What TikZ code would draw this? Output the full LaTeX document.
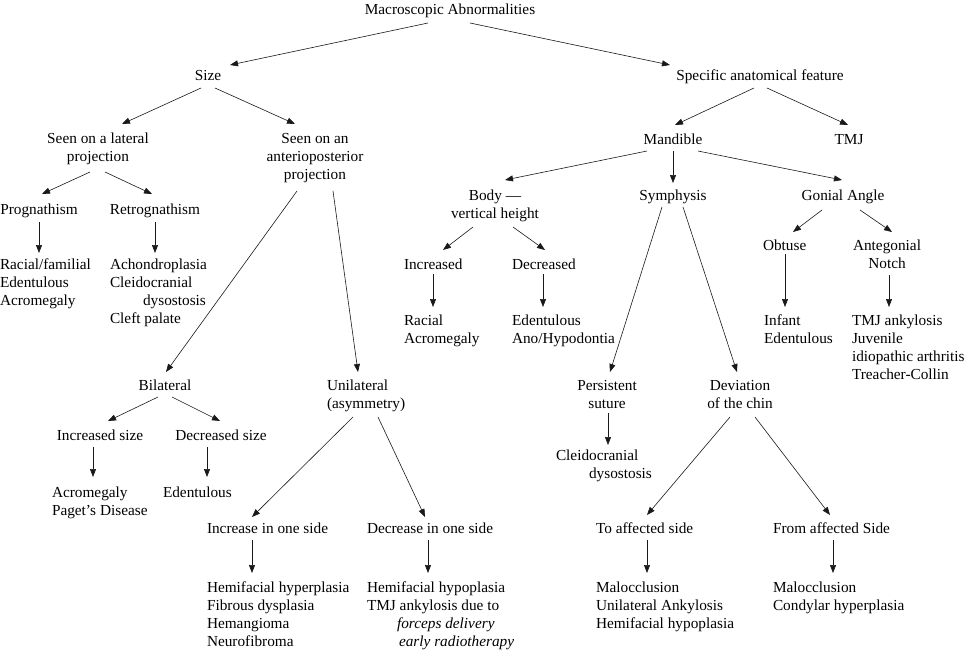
\documentclass[tikz,border=0pt]{standalone}
\usepackage{fontspec}
\setmainfont{Liberation Serif}
\usetikzlibrary{arrows.meta}
\newcommand{\fl}{\rule{0pt}{12pt}}
\begin{document}
\begin{tikzpicture}[x=1pt,y=-1pt,
  txt/.style={inner sep=0pt,outer sep=0pt,text=black,
    font=\fontsize{15.3}{18.3}\selectfont},
  ctr/.style={txt,anchor=north,align=center},
  lft/.style={txt,anchor=north west,align=left},
  arr/.style={draw=black!90,line width=0.6pt,-{Triangle[length=8pt,width=6pt]}}]
\useasboundingbox (0,0) rectangle (967,651);
% nodes
\node[ctr] (macro) at (450,2) {\fl Macroscopic Abnormalities};
\node[ctr] (size) at (208,68) {\fl Size};
\node[ctr] (spec) at (760,68) {\fl Specific anatomical feature};
\node[ctr] (lat) at (98,131) {\fl Seen on a lateral\\projection};
\node[ctr] (ap) at (315,131) {\fl Seen on an\\anterioposterior\\projection};
\node[ctr] (prog) at (39,202) {\fl Prognathism};
\node[ctr] (retro) at (155,202) {\fl Retrognathism};
\node[lft] (raclist) at (0,257) {\fl Racial/familial\\Edentulous\\Acromegaly};
\node[lft] (achlist) at (110,257) {\fl Achondroplasia\\Cleidocranial\\\hspace*{33pt}dysostosis\\Cleft palate};
\node[ctr] (bilat) at (165,378) {\fl Bilateral};
\node[lft] (unilat) at (327,378) {\fl Unilateral\\(asymmetry)};
\node[ctr] (incsize) at (100,428) {\fl Increased size};
\node[ctr] (decsize) at (221,428) {\fl Decreased size};
\node[lft] (acrolist) at (52,485) {\fl Acromegaly\\Paget’s Disease};
\node[lft] (edent1) at (163,485) {\fl Edentulous};
\node[lft] (incone) at (207,521) {\fl Increase in one side};
\node[lft] (decone) at (367,521) {\fl Decrease in one side};
\node[lft] (hyperlist) at (207,580) {\fl Hemifacial hyperplasia\\Fibrous dysplasia\\Hemangioma\\Neurofibroma};
\node[lft] (hypolist) at (367,580) {\fl Hemifacial hypoplasia\\TMJ ankylosis due to\\\hspace*{30pt}\textit{forceps delivery}\\\hspace*{32pt}\textit{early radiotherapy}};
\node[ctr] (mandible) at (673,132) {\fl Mandible};
\node[ctr] (tmj) at (849,132) {\fl TMJ};
\node[ctr] (body) at (495,188) {\fl Body —\\vertical height};
\node[ctr] (symph) at (673,188) {\fl Symphysis};
\node[ctr] (gonial) at (843,188) {\fl Gonial Angle};
\node[lft] (incr) at (404,257) {\fl Increased};
\node[lft] (racial2) at (404,313) {\fl Racial\\Acromegaly};
\node[lft] (decr) at (512,257) {\fl Decreased};
\node[lft] (edent2) at (512,313) {\fl Edentulous\\Ano/Hypodontia};
\node[lft] (obtuse) at (763,238) {\fl Obtuse};
\node[ctr] (anteg) at (887,238) {\fl Antegonial\\Notch};
\node[lft] (infant) at (764,313) {\fl Infant\\Edentulous};
\node[lft] (tmjlist) at (852,313) {\fl TMJ ankylosis\\Juvenile\\idiopathic arthritis\\Treacher-Collin};
\node[ctr] (persist) at (607,378) {\fl Persistent\\suture};
\node[ctr] (deviat) at (740,378) {\fl Deviation\\of the chin};
\node[lft] (cleido2) at (556,448) {\fl Cleidocranial\\\hspace*{33pt}dysostosis};
\node[lft] (toaff) at (596,521) {\fl To affected side};
\node[lft] (fromaff) at (773,521) {\fl From affected Side};
\node[lft] (maloc1) at (596,580) {\fl Malocclusion\\Unilateral Ankylosis\\Hemifacial hypoplasia};
\node[lft] (maloc2) at (773,580) {\fl Malocclusion\\Condylar hyperplasia};
% connectors
\draw[arr] ([shift={(-22,21)}]macro.north) -- ([shift={(22,-3)}]size.north);
\draw[arr] ([shift={(20,21)}]macro.north) -- ([shift={(-90,-3)}]spec.north);
\draw[arr] ([shift={(-7,20)}]size.north) -- ([shift={(24,-7)}]lat.north);
\draw[arr] ([shift={(7,20)}]size.north) -- ([shift={(-20,-7)}]ap.north);
\draw[arr] ([shift={(-8,41)}]lat.north) -- ([shift={(3,-8)}]prog.north);
\draw[arr] ([shift={(7,41)}]lat.north) -- ([shift={(-3,-8)}]retro.north);
\draw[arr] ([shift={(-18,60)}]ap.north) -- ([shift={(1,-6)}]bilat.north);
\draw[arr] ([shift={(18,60)}]ap.north) -- ([shift={(31,-6)}]unilat.north west);
\draw[arr] ([shift={(0,20)}]prog.north) -- ([shift={(39,-4)}]raclist.north west);
\draw[arr] ([shift={(0,20)}]retro.north) -- ([shift={(45,-4)}]achlist.north west);
\draw[arr] ([shift={(-7,19)}]bilat.north) -- ([shift={(8,-7)}]incsize.north);
\draw[arr] ([shift={(7,19)}]bilat.north) -- ([shift={(-1,-7)}]decsize.north);
\draw[arr] ([shift={(-7,19)}]incsize.north) -- ([shift={(41,-8)}]acrolist.north west);
\draw[arr] ([shift={(-14,19)}]decsize.north) -- ([shift={(44,-8)}]edent1.north west);
\draw[arr] ([shift={(26,39)}]unilat.north west) -- ([shift={(45,-4)}]incone.north west);
\draw[arr] ([shift={(51,39)}]unilat.north west) -- ([shift={(58,-4)}]decone.north west);
\draw[arr] ([shift={(45,19)}]incone.north west) -- ([shift={(45,-7)}]hyperlist.north west);
\draw[arr] ([shift={(61,19)}]decone.north west) -- ([shift={(61,-7)}]hypolist.north west);
\draw[arr] ([shift={(-6,20)}]spec.north) -- ([shift={(2,-7)}]mandible.north);
\draw[arr] ([shift={(7,20)}]spec.north) -- ([shift={(-1,-7)}]tmj.north);
\draw[arr] ([shift={(-26,19)}]mandible.north) -- ([shift={(10,-8)}]body.north);
\draw[arr] ([shift={(0,19)}]mandible.north) -- ([shift={(0,-5)}]symph.north);
\draw[arr] ([shift={(25,19)}]mandible.north) -- ([shift={(-1,-8)}]gonial.north);
\draw[arr] ([shift={(-22,39)}]body.north) -- ([shift={(39,-7)}]incr.north west);
\draw[arr] ([shift={(18,39)}]body.north) -- ([shift={(33,-7)}]decr.north west);
\draw[arr] ([shift={(29,17)}]incr.north west) -- ([shift={(29,-6)}]racial2.north west);
\draw[arr] ([shift={(31,17)}]decr.north west) -- ([shift={(31,-6)}]edent2.north west);
\draw[arr] ([shift={(-11,19)}]symph.north) -- ([shift={(3,-6)}]persist.north);
\draw[arr] ([shift={(10,19)}]symph.north) -- ([shift={(-3,-6)}]deviat.north);
\draw[arr] ([shift={(-21,22)}]gonial.north) -- ([shift={(30,-6)}]obtuse.north west);
\draw[arr] ([shift={(17,22)}]gonial.north) -- ([shift={(5,-6)}]anteg.north);
\draw[arr] ([shift={(22,16)}]obtuse.north west) -- ([shift={(21,-6)}]infant.north west);
\draw[arr] ([shift={(2,37)}]anteg.north) -- ([shift={(37,-6)}]tmjlist.north west);
\draw[arr] ([shift={(1,35)}]persist.north) -- ([shift={(52,-3)}]cleido2.north west);
\draw[arr] ([shift={(-10,39)}]deviat.north) -- ([shift={(51,-6)}]toaff.north west);
\draw[arr] ([shift={(15,39)}]deviat.north) -- ([shift={(57,-6)}]fromaff.north west);
\draw[arr] ([shift={(51,19)}]toaff.north west) -- ([shift={(51,-7)}]maloc1.north west);
\draw[arr] ([shift={(60,19)}]fromaff.north west) -- ([shift={(60,-7)}]maloc2.north west);
\end{tikzpicture}
\end{document}
